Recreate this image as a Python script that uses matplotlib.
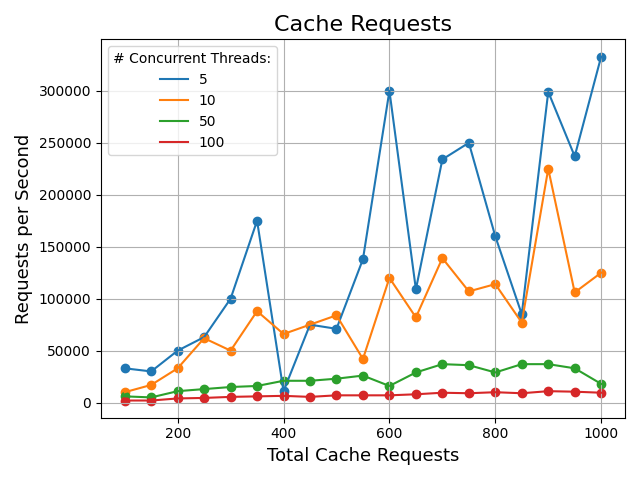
import matplotlib
matplotlib.use('Agg')
import matplotlib.pyplot as plt

# Total cache requests (x axis)
total_requests = [100, 150, 200, 250, 300, 350, 400, 450, 500, 550,
                  600, 650, 700, 750, 800, 850, 900, 950, 1000]

# Requests per second for each thread count
threads_5 = [33000, 30000, 50000, 63000, 100000, 175000, 11000, 75000, 71000, 138000,
             300000, 109000, 234000, 250000, 160000, 85000, 299000, 237000, 333000]
threads_10 = [10000, 17000, 33000, 62000, 50000, 88000, 66000, 75000, 84000, 42000,
              120000, 82000, 139000, 107000, 114000, 77000, 225000, 106000, 125000]
threads_50 = [6000, 5000, 11000, 13000, 15000, 16000, 21000, 21000, 23000, 26000,
              16000, 29000, 37000, 36000, 29000, 37000, 37000, 33000, 18000]
threads_100 = [2000, 2000, 4000, 4500, 5500, 6000, 6500, 5500, 7000, 7000,
               7000, 8000, 9500, 9000, 10000, 9000, 11000, 10500, 9500]

thread_labels = ['5', '10', '50', '100']
series = [threads_5, threads_10, threads_50, threads_100]

fig, ax = plt.subplots(figsize=(6.4, 4.8), dpi=100)

for label, values in zip(thread_labels, series):
    line, = ax.plot(total_requests, values, label=label)
    ax.scatter(total_requests, values, color=line.get_color())

ax.set_title('Cache Requests', fontsize=16)
ax.set_xlabel('Total Cache Requests', fontsize=13)
ax.set_ylabel('Requests per Second', fontsize=13)
ax.grid(True)
ax.legend(title='# Concurrent Threads:', loc='upper left')

plt.tight_layout()
plt.savefig('out.png')
